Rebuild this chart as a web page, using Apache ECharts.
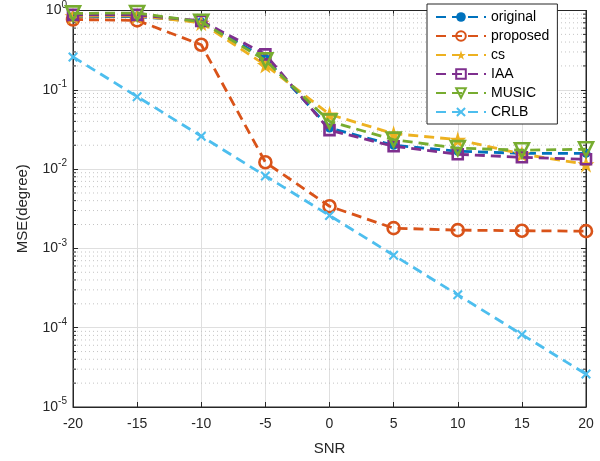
<!DOCTYPE html>
<html>
<head>
	<meta charset="utf-8" />
	<title>MSE vs SNR</title>
	<script src="https://cdn.jsdelivr.net/npm/echarts@6/dist/echarts.min.js"></script>
	<style>
		html, body { margin: 0; padding: 0; background: #fff; }
		#main { width: 600px; height: 461px; }
	</style>
</head>
<body>
	<div id="main"></div>
	<script type="text/javascript">
		// values
		var snr = [-20, -15, -10, -5, 0, 5, 10, 15, 20];
		var original = [0.83, 0.84, 0.72, 0.25, 0.033, 0.020, 0.0168, 0.0158, 0.0158];
		var proposed = [0.77, 0.75, 0.37, 0.0122, 0.0034, 0.0018, 0.0017, 0.00167, 0.00165];
		var cs = [0.85, 0.86, 0.70, 0.205, 0.049, 0.028, 0.0235, 0.0155, 0.0115];
		var iaa = [0.88, 0.88, 0.74, 0.28, 0.031, 0.0194, 0.0154, 0.0141, 0.0133];
		var music = [0.92, 0.93, 0.72, 0.235, 0.040, 0.0235, 0.0184, 0.0173, 0.0178];
		var crlb = [0.26, 0.082, 0.026, 0.0082, 0.0026, 0.00082, 0.00026, 0.000082, 0.000026];
		var names = ['original', 'proposed', 'cs', 'IAA', 'MUSIC', 'CRLB'];
		var colors = ['#0072BD', '#D95319', '#EDB120', '#7E2F8E', '#77AC30', '#4DBEEE'];

		function pairs(arr) {
			return snr.map(function (x, i) { return [x, arr[i]]; });
		}

		// minor grid values 2..9 x 10^e
		var minorVals = [];
		for (var e = -5; e < 0; e++) {
			for (var k = 2; k <= 9; k++) minorVals.push([k * Math.pow(10, e)]);
		}

		var xPath = 'path://M3,0 L10,7 L17,0 L20,3 L13,10 L20,17 L17,20 L10,13 L3,20 L0,17 L7,10 L0,3 Z';
		var starPath = 'path://M50,0 L61,35 L98,35 L68,57 L79,91 L50,70 L21,91 L32,57 L2,35 L39,35 Z';

		function mkSeries(name, arr, idx, symbol, size, hollow, extra) {
			var s = {
				name: name,
				type: 'line',
				data: pairs(arr),
				symbol: symbol,
				symbolSize: size,
				lineStyle: { color: colors[idx], width: 2.8, type: [10, 6] },
				itemStyle: hollow
					? { color: 'rgba(255,255,255,0)', borderColor: colors[idx], borderWidth: 2.6 }
					: { color: colors[idx], borderColor: colors[idx], borderWidth: 0 },
				emphasis: { disabled: true },
				z: 3 + idx
			};
			for (var key in extra) s[key] = extra[key];
			return s;
		}

		var ink = '#262626';
		var myChart = echarts.init(document.getElementById('main'));
		myChart.setOption({
			animation: false,
			grid: { left: 73, right: 14, top: 8, bottom: 53, show: true, borderColor: ink, borderWidth: 1 },
			legend: {
				data: names,
				orient: 'vertical',
				left: 427,
				top: 4,
				padding: [6, 8, 5, 8],
				itemWidth: 50,
				itemHeight: 12,
				itemGap: 5,
				backgroundColor: '#fff',
				borderColor: ink,
				borderWidth: 1,
				borderRadius: 0,
				textStyle: { fontSize: 14, color: '#000', fontFamily: 'Liberation Sans' }
			},
			xAxis: [{
				type: 'value',
				min: -20, max: 20, interval: 5,
				name: 'SNR',
				nameLocation: 'middle',
				nameGap: 34,
				nameTextStyle: { fontSize: 15, color: ink, fontFamily: 'Liberation Sans' },
				axisLine: { onZero: false, lineStyle: { color: ink } },
				axisTick: { inside: true, length: 5, lineStyle: { color: ink } },
				axisLabel: { fontSize: 14, color: ink, margin: 10, fontFamily: 'Liberation Sans' },
				splitLine: { show: true, lineStyle: { color: '#dfdfdf', width: 1 } }
			}, {
				type: 'value', position: 'top',
				min: -20, max: 20, interval: 5,
				axisLine: { onZero: false, lineStyle: { color: ink } },
				axisTick: { inside: true, length: 5, lineStyle: { color: ink } },
				axisLabel: { show: false },
				splitLine: { show: false }
			}],
			yAxis: [{
				type: 'log',
				logBase: 10,
				min: 1e-5, max: 1,
				name: 'MSE(degree)',
				nameLocation: 'middle',
				nameGap: 43,
				nameTextStyle: { fontSize: 15, color: ink, fontFamily: 'Liberation Sans' },
				axisLine: { onZero: false, lineStyle: { color: ink } },
				axisTick: { inside: true, length: 5, lineStyle: { color: ink } },
				axisLabel: {
					margin: 6,
					formatter: function (v) {
						var p = Math.round(Math.log10(v));
						return '{b|10}{s|' + p + '}';
					},
					rich: {
						b: { fontSize: 14, color: ink, fontFamily: 'Liberation Sans' },
						s: { fontSize: 10, color: ink, fontFamily: 'Liberation Sans', padding: [0, 0, 11, 0] }
					}
				},
				splitLine: { show: true, lineStyle: { color: '#dfdfdf', width: 1 } }
			}, {
				type: 'log', position: 'right',
				logBase: 10,
				min: 1e-5, max: 1,
				axisLine: { onZero: false, lineStyle: { color: ink } },
				axisTick: { inside: true, length: 5, lineStyle: { color: ink } },
				axisLabel: { show: false },
				splitLine: { show: false }
			}],
			series: [
				{
					// minor dotted grid and minor ticks of the log axis
					type: 'custom',
					silent: true,
					z: 1,
					data: minorVals,
					encode: { y: 0 },
					renderItem: function (params, api) {
						var v = api.value(0);
						var a = api.coord([-20, v]);
						var b = api.coord([20, v]);
						return {
							type: 'group',
							children: [{
								type: 'line',
								shape: { x1: a[0], y1: a[1], x2: b[0], y2: b[1] },
								style: { stroke: '#c4c4c4', lineWidth: 1, lineDash: [1, 3] }
							}, {
								type: 'line',
								shape: { x1: a[0], y1: a[1], x2: a[0] + 3, y2: a[1] },
								style: { stroke: ink, lineWidth: 1 }
							}, {
								type: 'line',
								shape: { x1: b[0] - 3, y1: b[1], x2: b[0], y2: b[1] },
								style: { stroke: ink, lineWidth: 1 }
							}]
						};
					}
				},
				mkSeries('original', original, 0, 'circle', 9, false, {}),
				mkSeries('proposed', proposed, 1, 'circle', 12, true, {}),
				mkSeries('cs', cs, 2, starPath, 17, false, {}),
				mkSeries('IAA', iaa, 3, 'rect', 10, true, {}),
				mkSeries('MUSIC', music, 4, 'triangle', 14, true, { symbolRotate: 180 }),
				mkSeries('CRLB', crlb, 5, xPath, 10, false, {})
			]
		});
	</script>
</body>
</html>
